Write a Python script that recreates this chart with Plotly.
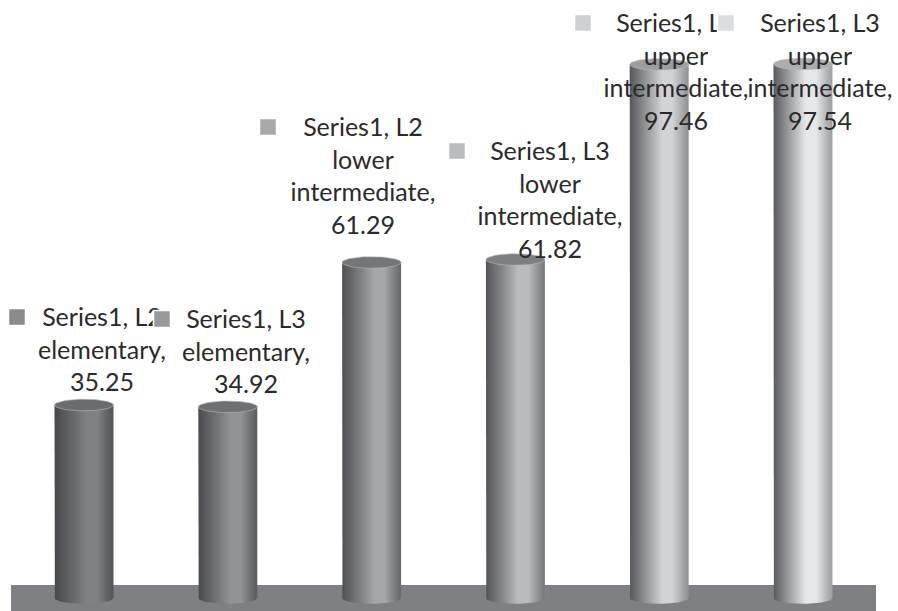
import numpy as np
import plotly.graph_objects as go

# Score by level and list
series_name = "Series1"
lists = ["L2", "L3", "L2", "L3", "L2", "L3"]
levels = ["elementary", "elementary", "lower intermediate", "lower intermediate",
          "upper intermediate", "upper intermediate"]
values = [35.25, 34.92, 61.29, 61.82, 97.46, 97.54]

# Cylinder shading, one tone group per column
shadow_tones = ["#47484a", "#4a4b4d", "#4e4f51", "#525355", "#56575a", "#595a5d"]
lit_tones = ["#808185", "#929396", "#a6a7aa", "#babbbe", "#d2d3d5", "#e6e7e8"]
edge_tones = ["#565759", "#5e5f62", "#6c6d70", "#7c7d80", "#949598", "#a2a3a5"]
cap_tones = ["#6b6c6f", "#6f7073", "#75767a", "#7e7f82", "#9c9d9f", "#acadaf"]
key_tones = ["#8a8b8e", "#98999c", "#a7a8ab", "#bbbcbf", "#cfd0d2", "#dcdddf"]

WIDTH, HEIGHT = 898, 611
X0_PX, X_STEP_PX = 84.0, 143.8
Y0_PX, Y_UNIT_PX = 598.0, 5.475
RADIUS_PX, CAP_PX = 29.5, 5.8

# Label block placement in page pixels: text centre, key centre, first line centre
label_cx = [102, 246, 363, 550, 676, 820]
key_cx = [17, 162, 268, 457, 583, 726]
first_line_y = [318, 320, 128, 152, 24, 24]
line_gap = 32.8
text_drop = 1.5


def px_x(px):
    return (px - X0_PX) / X_STEP_PX


def px_y(px):
    return (Y0_PX - px) / Y_UNIT_PX


def label_lines(i):
    words = levels[i].split(" ")
    head = f"{series_name}, {lists[i]}"
    if len(words) == 2:
        return [head, words[0], words[1] + ",", f"{values[i]:.2f}"]
    return [head, words[0] + ",", f"{values[i]:.2f}"]


fig = go.Figure()
t = np.linspace(0, np.pi, 40)
rx = RADIUS_PX / X_STEP_PX
ry = CAP_PX / Y_UNIT_PX

for i, v in enumerate(values):
    # Body: straight sides closed by the lower half of an ellipse at the base
    xs = np.concatenate([[i - rx], i - rx * np.cos(t), [i + rx, i - rx]])
    ys = np.concatenate([[v], -ry * np.sin(t), [v, v]])
    fig.add_trace(go.Scatter(
        x=xs, y=ys, mode="lines", line=dict(width=0), fill="toself",
        fillgradient=dict(type="horizontal", colorscale=[
            [0, shadow_tones[i]], [0.55, lit_tones[i]], [0.72, lit_tones[i]],
            [0.97, edge_tones[i]], [1, edge_tones[i]]]),
        hoverinfo="skip", showlegend=False))
    # Top face
    a = np.linspace(0, 2 * np.pi, 80)
    fig.add_trace(go.Scatter(
        x=i + rx * np.cos(a), y=v + ry * np.sin(a), mode="lines",
        line=dict(width=0.6, color="#b9babc"), fill="toself", fillcolor=cap_tones[i],
        hoverinfo="skip", showlegend=False))

# Labels go after the cylinders, each key masking whatever text runs under it
for i, v in enumerate(values):
    lines = label_lines(i)
    fig.add_trace(go.Scatter(
        x=[px_x(label_cx[i])] * len(lines),
        y=[px_y(first_line_y[i] + text_drop + n * line_gap) for n in range(len(lines))],
        mode="text", text=lines, textposition="middle center",
        textfont=dict(family="Lato, Carlito, Calibri, sans-serif", size=25, color="#2b2a2b"),
        hoverinfo="skip", showlegend=False))
    fig.add_trace(go.Scatter(
        x=[px_x(key_cx[i])], y=[px_y(first_line_y[i] - 1)], mode="markers",
        marker=dict(symbol="square", size=17, color=key_tones[i],
                    line=dict(color="white", width=1.5)),
        hoverinfo="skip", showlegend=False))

fig.update_layout(
    width=WIDTH, height=HEIGHT,
    margin=dict(l=0, r=0, t=0, b=0),
    paper_bgcolor="white", plot_bgcolor="white",
    showlegend=False,
    xaxis=dict(range=[px_x(0), px_x(WIDTH)], visible=False, fixedrange=True),
    yaxis=dict(range=[px_y(HEIGHT), px_y(0)], visible=False, fixedrange=True),
    # Floor slab
    shapes=[dict(type="rect", xref="paper", yref="paper", layer="below",
                 x0=11 / WIDTH, x1=876 / WIDTH, y0=0, y1=(HEIGHT - 585) / HEIGHT,
                 fillcolor="#7f8083", line=dict(width=0))],
)

fig.write_html("out.html", config=dict(displayModeBar=False))
